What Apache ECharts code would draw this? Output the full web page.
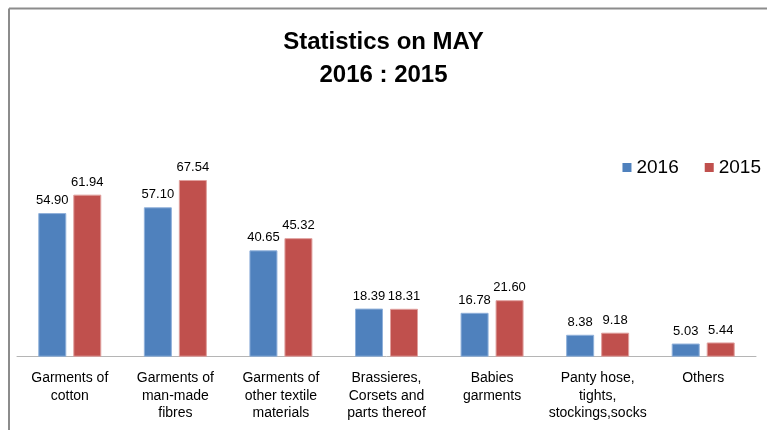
<!DOCTYPE html>
<html>
<head>
<meta charset="utf-8">
<script src="https://cdn.jsdelivr.net/npm/echarts@6/dist/echarts.min.js"></script>
<style>
html,body{margin:0;padding:0;background:#fff;}
#main{width:767px;height:430px;}
</style>
</head>
<body>
<div id="main"></div>
<script>
const categories = [
  "Garments of\ncotton",
  "Garments of\nman-made\nfibres",
  "Garments of\nother textile\nmaterials",
  "Brassieres,\nCorsets and\nparts thereof",
  "Babies\ngarments",
  "Panty hose,\ntights,\nstockings,socks",
  "Others"
];
const values2016 = [54.90, 57.10, 40.65, 18.39, 16.78, 8.38, 5.03];
const values2015 = [61.94, 67.54, 45.32, 18.31, 21.60, 9.18, 5.44];
const seriesNames = ["2016", "2015"];

const chart = echarts.init(document.getElementById('main'), null, {renderer: 'canvas'});
const labelCfg = {
  show: true,
  position: 'top',
  distance: 6,
  fontFamily: 'Liberation Sans, Arial, sans-serif',
  fontSize: 13,
  color: '#000',
  formatter: p => p.value.toFixed(2)
};
chart.setOption({
  animation: false,
  backgroundColor: '#fff',
  graphic: [
    { type: 'line', shape: { x1: 9, y1: 8.5, x2: 767, y2: 8.5 }, style: { stroke: '#8c8c8c', lineWidth: 2 } },
    { type: 'line', shape: { x1: 9, y1: 8.5, x2: 9, y2: 430 }, style: { stroke: '#8c8c8c', lineWidth: 2 } }
  ],
  title: {
    text: 'Statistics on MAY\n2016 : 2015',
    left: 'center',
    top: 21,
    textStyle: {
      fontFamily: 'Liberation Sans Narrow, Liberation Sans, Arial, sans-serif',
      fontWeight: 'bold',
      fontSize: 24,
      lineHeight: 33,
      color: '#000'
    }
  },
  legend: {
    data: seriesNames,
    right: 1,
    top: 153,
    icon: 'rect',
    itemWidth: 9,
    itemHeight: 9,
    itemGap: 26,
    itemStyle: { borderWidth: 0 },
    textStyle: {
      fontFamily: 'Liberation Sans, Arial, sans-serif',
      fontSize: 19,
      color: '#000',
      padding: [0, 0, 0, 0]
    }
  },
  grid: { left: 17, right: 11, top: 147.4, bottom: 73.3, containLabel: false },
  xAxis: {
    type: 'category',
    data: categories,
    axisLine: { show: true, lineStyle: { color: '#b5b5b5', width: 1 } },
    axisTick: { show: false },
    axisLabel: {
      interval: 0,
      margin: 13,
      fontFamily: 'Liberation Sans, Arial, sans-serif',
      fontSize: 14,
      lineHeight: 17.5,
      color: '#000'
    }
  },
  yAxis: {
    type: 'value',
    min: 0,
    max: 80,
    interval: 10,
    show: false,
    splitLine: { show: false }
  },
  series: [
    {
      name: seriesNames[0],
      type: 'bar',
      data: values2016,
      barWidth: 28,
      barGap: '25%',
      itemStyle: { color: '#4F81BD', borderColor: '#8fb0da', borderWidth: 1 },
      label: labelCfg
    },
    {
      name: seriesNames[1],
      type: 'bar',
      data: values2015,
      barWidth: 28,
      barGap: '25%',
      itemStyle: { color: '#C0504D', borderColor: '#e0a09e', borderWidth: 1 },
      label: labelCfg
    }
  ]
});
</script>
</body>
</html>
